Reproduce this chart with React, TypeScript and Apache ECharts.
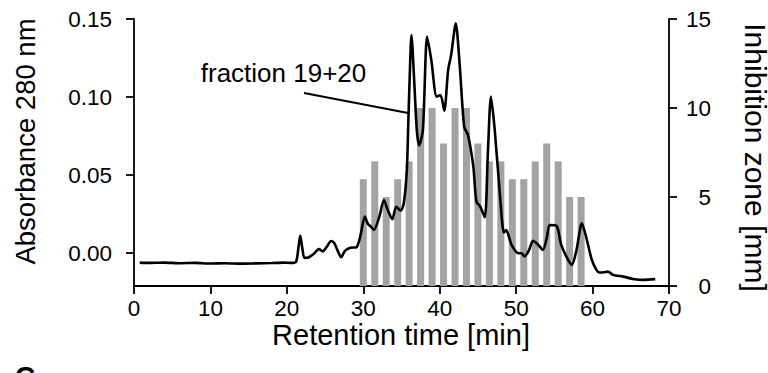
import { useEffect, useRef } from "react";
import * as echarts from "echarts";

// Fraction collection times (min) and inhibition zone (mm)
const fractionTimes = [30, 31.5, 33, 34.5, 36, 37.5, 39, 40.5, 42, 43.5, 45, 46.5, 48, 49.5, 51, 52.5, 54, 55.5, 57, 58.5];
const inhibitionZone = [6, 7, 5, 6, 7, 10, 10, 8, 10, 10, 8, 7, 7, 6, 6, 7, 8, 7, 5, 5];

// Absorbance trace at 280 nm
const traceTime = [
  0.75, 2, 4, 6, 8, 10, 12, 14, 16, 18, 19.5, 20.5, 21.2,
  21.5, 21.75, 22.0, 22.3, 22.8, 23.5, 24.2, 24.7, 25.2, 25.8, 26.2, 26.7, 27.1, 27.6, 28.3, 29.1,
  29.6, 30.2, 30.6, 31.0, 31.4, 32.1, 32.7, 33.2, 33.8, 34.3, 34.9, 35.3, 35.7, 35.9, 36.1, 36.3,
  36.7, 37.0, 37.3, 37.8, 38.35, 38.9, 39.6, 40.1, 40.6, 41.1, 41.5, 42.1, 42.6, 43.2, 43.7, 44.4,
  44.8, 45.3, 45.9, 46.3, 46.7, 47.2, 47.9, 48.4, 48.7, 49.4, 50.3, 50.7, 51.1, 51.7, 52.2, 52.9,
  53.5, 54.0, 54.4, 55.3, 55.9, 56.8, 57.3, 57.9, 58.6, 59.2, 59.9, 60.5, 60.9, 61.5, 62.0, 62.7,
  64.0, 65.3, 66.6, 68.2,
];
const traceAbs = [
  -0.006, -0.0062, -0.006, -0.0064, -0.0062, -0.0066, -0.0064, -0.0067, -0.0065, -0.0063, -0.006, -0.0062, -0.0055,
  0.003, 0.0113, 0.004, -0.003, -0.0028, -0.0005, 0.0026, 0.0012, 0.004, 0.0078, 0.0065, 0.001, -0.0026, 0.0015, 0.0035, 0.0038,
  0.0106, 0.0234, 0.0188, 0.017, 0.0149, 0.0234, 0.0341, 0.0277, 0.0218, 0.0298, 0.0273, 0.032, 0.0533, 0.0853, 0.117, 0.1398,
  0.1067, 0.079, 0.069, 0.079, 0.1387, 0.1237, 0.1003, 0.1013, 0.0913, 0.1173, 0.127, 0.1472, 0.1216, 0.081, 0.0757, 0.0554,
  0.033, 0.0298, 0.023, 0.064, 0.1003, 0.079, 0.036, 0.0132, 0.0149, 0.0053, 0.0, 0.0, -0.002, 0.0021, 0.008, 0.0053,
  0.0021, 0.0096, 0.0181, 0.0175, 0.0053, -0.0043, -0.0075, 0.0021, 0.0192, 0.0096, -0.0043, -0.0107, -0.0124, -0.0122, -0.0118, -0.0139,
  -0.015, -0.0165, -0.0171, -0.0166,
];

const absTicks = [0, 0.05, 0.1, 0.15];
const annotationText = "fraction 19+20";
const xTitle = "Retention time [min]";
const leftTitle = "Absorbance 280 nm";
const rightTitle = "Inhibition zone [mm]";

const FONT = "'Liberation Sans', Arial, sans-serif";

export default function App() {
  const ref = useRef<HTMLDivElement>(null);
  useEffect(() => {
    if (!ref.current) return;
    const chart = echarts.init(ref.current, undefined, { renderer: "svg" });
    const axisLine = { show: true, lineStyle: { color: "#000", width: 1.8 } };
    const axisTick = { show: true, length: 8, lineStyle: { color: "#000", width: 1.8 } };
    chart.setOption({
      animation: false,
      backgroundColor: "#fff",
      grid: { left: 134, right: 99, top: 19, bottom: 87 },
      xAxis: {
        type: "value",
        min: 0,
        max: 70,
        interval: 10,
        axisLine: { ...axisLine, onZero: false },
        axisTick,
        splitLine: { show: false },
        axisLabel: { color: "#000", fontSize: 22.5, fontFamily: FONT, margin: 11, showMinLabel: true, showMaxLabel: true },
      },
      yAxis: [
        {
          type: "value",
          min: -0.021,
          max: 0.15,
          axisLine: { ...axisLine, onZero: false },
          axisTick: { ...axisTick, customValues: absTicks },
          splitLine: { show: false },
          axisLabel: {
            customValues: absTicks,
            color: "#000",
            fontSize: 22.5,
            fontFamily: FONT,
            margin: 22,
            formatter: (v: number) => v.toFixed(2),
          },
        },
        {
          type: "value",
          position: "right",
          min: 0,
          max: 15,
          interval: 5,
          axisLine: { ...axisLine, onZero: false },
          axisTick,
          splitLine: { show: false },
          axisLabel: { color: "#000", fontSize: 22.5, fontFamily: FONT, margin: 42, align: "right", showMinLabel: true, showMaxLabel: true },
        },
      ],
      series: [
        {
          type: "bar",
          yAxisIndex: 1,
          barWidth: 7,
          itemStyle: { color: "#a3a3a3" },
          data: fractionTimes.map((t, i) => [t, inhibitionZone[i]]),
          z: 1,
        },
        {
          type: "line",
          yAxisIndex: 0,
          showSymbol: false,
          smooth: 0.25,
          lineStyle: { color: "#000", width: 2.6 },
          data: traceTime.map((t, i) => [t, traceAbs[i]]),
          z: 3,
        },
      ],
      graphic: [
        {
          type: "text",
          x: 283.5,
          y: 73,
          style: { text: annotationText, font: `26px ${FONT}`, fill: "#000", textAlign: "center", textVerticalAlign: "middle" },
        },
        {
          type: "line",
          shape: { x1: 304, y1: 93, x2: 408, y2: 113 },
          style: { stroke: "#000", lineWidth: 2.2 },
        },
        {
          type: "text",
          x: 401,
          y: 335,
          style: { text: xTitle, font: `29px ${FONT}`, fill: "#000", textAlign: "center", textVerticalAlign: "middle" },
        },
        {
          type: "text",
          x: 25,
          y: 141.5,
          rotation: Math.PI / 2,
          style: { text: leftTitle, font: `27.5px ${FONT}`, fill: "#000", textAlign: "center", textVerticalAlign: "middle" },
        },
        {
          type: "text",
          x: 755,
          y: 157.5,
          rotation: -Math.PI / 2,
          style: { text: rightTitle, font: `30px ${FONT}`, fill: "#000", textAlign: "center", textVerticalAlign: "middle" },
        },
        {
          type: "text",
          x: 25,
          y: 362,
          style: { text: "C", font: `bold 28px ${FONT}`, fill: "#000", textAlign: "center", textVerticalAlign: "top" },
        },
      ],
    });
    return () => chart.dispose();
  }, []);
  return <div ref={ref} style={{ position: "fixed", left: 0, top: 0, width: 768, height: 373 }} />;
}
